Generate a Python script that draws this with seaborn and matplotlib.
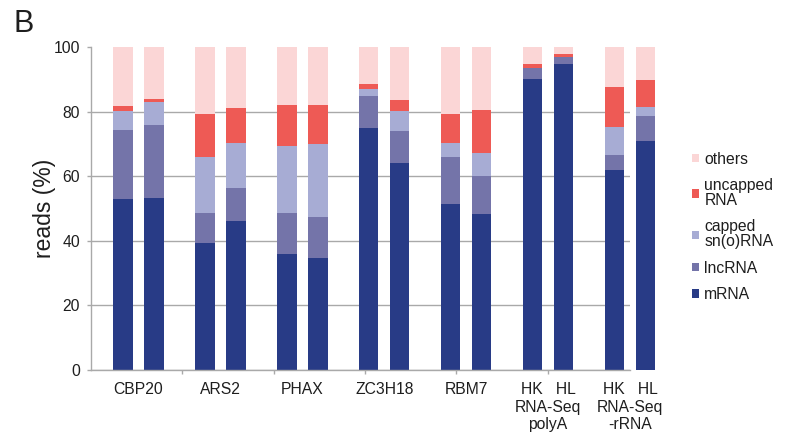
import numpy as np
import pandas as pd
import matplotlib
matplotlib.use("Agg")
import matplotlib.pyplot as plt
from matplotlib.patches import Patch
import seaborn as sns

# Read composition (% of reads) per sample, two bars per group
groups = ["CBP20", "ARS2", "PHAX", "ZC3H18", "RBM7",
          "HK   HL\nRNA-Seq\npolyA", "HK   HL\nRNA-Seq\n-rRNA"]
lanes = ["1", "2"]

mrna     = [52.8, 53.4, 39.4, 46.1, 35.9, 34.8, 74.8, 64.0, 51.5, 48.2, 90.0, 94.7, 61.9, 70.8]
lncrna   = [21.5, 22.5,  9.3, 10.2, 12.8, 12.7,  9.9, 10.0, 14.4, 12.0,  3.5,  2.1,  4.7,  7.7]
capped   = [ 5.9,  7.0, 17.2, 13.9, 20.8, 22.4,  2.3,  6.2,  4.3,  6.9,  0.0,  0.0,  8.6,  2.9]
uncapped = [ 1.4,  1.0, 13.5, 11.0, 12.4, 12.0,  1.5,  3.4,  9.2, 13.5,  1.2,  1.0, 12.5,  8.4]
others   = [18.4, 16.1, 20.6, 18.8, 18.1, 18.1, 11.5, 16.4, 20.6, 19.4,  5.3,  2.2, 12.3, 10.2]

categories = ["mRNA", "lncRNA", "capped\nsn(o)RNA", "uncapped\nRNA", "others"]
colors = ["#283b86", "#7474a9", "#a7acd4", "#ee5a55", "#fbd6d6"]
y_ticks = [0, 20, 40, 60, 80, 100]

layers = [mrna, lncrna, capped, uncapped, others]
df = pd.DataFrame({
    "group": np.repeat(groups, 2),
    "lane": lanes * len(groups),
})
cum = np.cumsum(np.array(layers), axis=0)
for name, vals in zip(categories, cum):
    df[name] = vals

sns.set_theme(style="white")
plt.rcParams["font.family"] = ["Liberation Sans", "DejaVu Sans"]
text_col = "#1e1e1e"
axis_col = "#a9a9a9"

fig = plt.figure(figsize=(7.85, 4.41), dpi=100)
ax = fig.add_axes([91 / 785, 71 / 441, (630 - 91) / 785, 323 / 441])

# Stacked bars: draw cumulative totals from the top layer down
for name, col in reversed(list(zip(categories, colors))):
    sns.barplot(data=df, x="group", y=name, hue="lane", order=groups,
                hue_order=lanes, palette=[col, col], saturation=1,
                width=0.757, gap=0.374, dodge=True, legend=False,
                linewidth=0, errorbar=None, ax=ax)

for p in ax.patches:
    p.set_clip_on(False)

x_lo, x_hi = -0.58, 5.80
ax.set_xlim(x_lo, x_hi)
ax.set_ylim(0, 100)

# Axes styling
for side in ["top", "right"]:
    ax.spines[side].set_visible(False)
for side in ["left", "bottom"]:
    ax.spines[side].set_color(axis_col)
    ax.spines[side].set_linewidth(1.0)

ax.set_yticks(y_ticks)
ax.set_yticklabels([str(v) for v in y_ticks], fontsize=11.3, color=text_col)
ax.tick_params(axis="y", direction="out", length=3, width=1.0,
               color=axis_col, pad=5, left=True)
ax.yaxis.grid(True, color=axis_col, linewidth=1.0)
ax.get_ygridlines()[-1].set_visible(False)
ax.set_axisbelow(True)

ax.set_xticks(range(len(groups)))
ax.set_xticklabels(groups, fontsize=11.3, color=text_col, linespacing=1.2)
ax.tick_params(axis="x", which="major", length=0, pad=9)
step = 1.1154
ax.set_xticks([x_lo + step * k for k in range(1, 6)], minor=True)
ax.tick_params(axis="x", which="minor", direction="out", length=3,
               width=1.0, color=axis_col, bottom=True)

ax.set_xlabel("")
ax.set_ylabel("reads (%)", fontsize=16.5, color=text_col)
ax.yaxis.set_label_coords((56 - 91) / 539, 0.5)

# Legend, topmost layer first
handles = [Patch(facecolor=c, edgecolor="none", label=l)
           for l, c in reversed(list(zip(categories, colors)))]
fig.legend(handles=handles, loc="upper left",
           bbox_to_anchor=(684 / 785, 1 - 144 / 441), frameon=False,
           fontsize=11.3, handlelength=0.45, handleheight=0.45,
           handletextpad=0.35, labelspacing=0.72, borderpad=0,
           labelcolor=text_col)
for t in fig.legends[0].get_texts():
    t.set_linespacing(1.0)

fig.text(14 / 785, 1 - 32 / 441, "B", fontsize=22, color=text_col,
         va="baseline", ha="left")

fig.savefig("out.png", dpi=100)
